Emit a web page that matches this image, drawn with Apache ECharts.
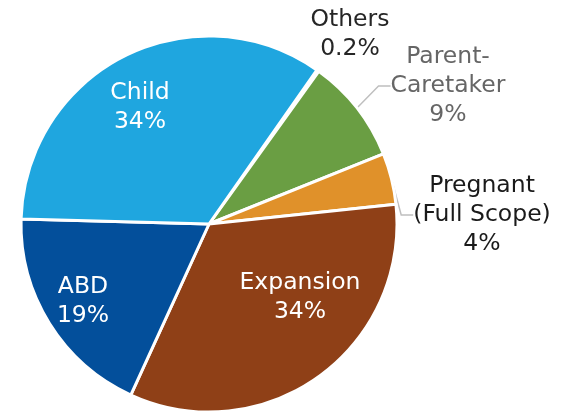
<!DOCTYPE html>
<html><head><meta charset="utf-8">
<script src="https://cdn.jsdelivr.net/npm/echarts@6/dist/echarts.min.js"></script>
<style>html,body{margin:0;padding:0;background:#fff}#c{width:565px;height:413px}</style>
</head><body><div id="c"></div>
<script>
const categories = ['Others', 'Parent-\nCaretaker', 'Pregnant\n(Full Scope)', 'Expansion', 'ABD', 'Child'];
const values = [0.2, 9.0, 4.4, 33.5, 18.6, 34.3];
const colors = ['#a5a5a5', '#6a9e43', '#e0912a', '#8f4017', '#034f9b', '#1fa6df'];
const labelColors = ['#262626', '#666666', '#1a1a1a', '#ffffff', '#ffffff', '#ffffff'];
// label block centres (layout styling)
const labelSpots = [[350, 34], [448, 86], [482, 215], [300, 297], [83, 301], [140, 107]];

const chart = echarts.init(document.getElementById('c'), null, {renderer: 'canvas'});
const data = categories.map((name, i) => ({
  name: name,
  value: values[i],
  itemStyle: {color: colors[i]},
  label: {color: labelColors[i], position: i < 3 ? 'outside' : 'inside'},
  labelLine: {show: i === 1 || i === 2}
}));
chart.setOption({
  animation: false,
  series: [{
    type: 'pie',
    center: [209, 224],
    radius: 188,
    startAngle: 55,
    clockwise: true,
    avoidLabelOverlap: false,
    data: data,
    itemStyle: {borderColor: '#fff', borderWidth: 3},
    label: {
      show: true,
      fontFamily: 'DejaVu Sans',
      fontSize: 23.5,
      lineHeight: 29,
      overflow: 'none',
      formatter: p => p.name + '\n' + (p.value < 1 ? p.value.toFixed(1) : Math.round(p.value)) + '%'
    },
    labelLine: {show: true, length: 22, length2: 12, lineStyle: {color: '#bfbfbf', width: 1.5}},
    labelLayout: function (p) {
      const s = labelSpots[p.dataIndex];
      return {x: s[0], y: s[1], align: 'center', verticalAlign: 'middle'};
    },
    emphasis: {disabled: true}
  }]
});
</script></body></html>
